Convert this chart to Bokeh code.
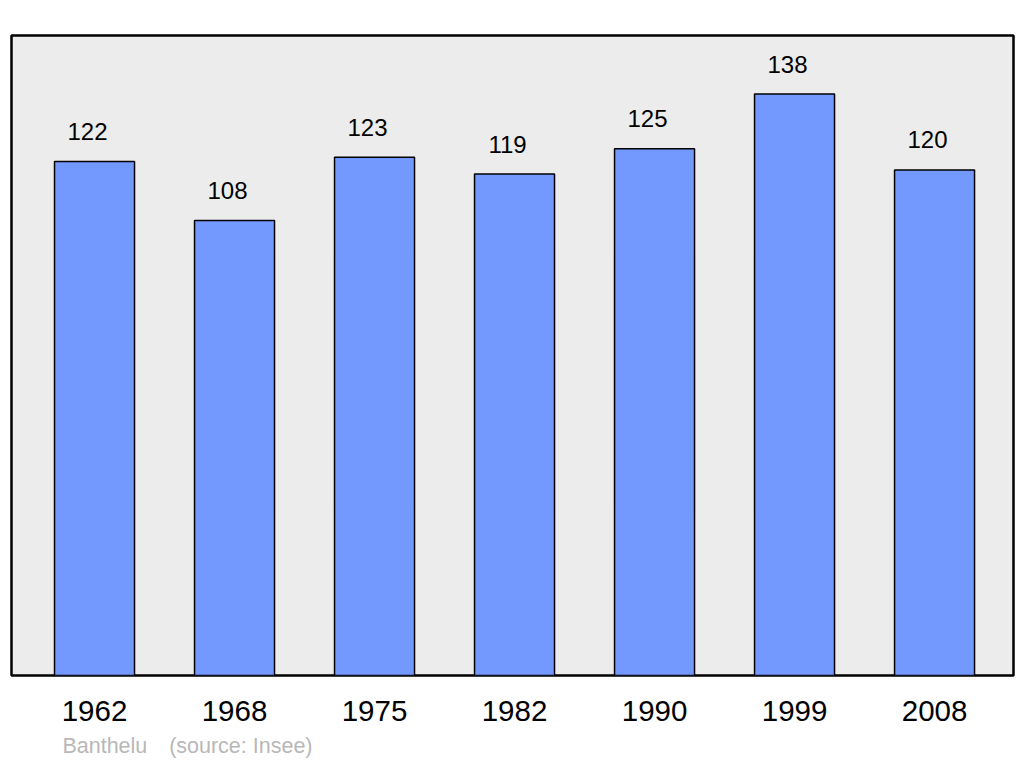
from bokeh.plotting import figure
from bokeh.models import Range1d, FixedTicker, LinearAxis, ColumnDataSource
from bokeh.core.properties import value
from bokeh.embed import file_html
from bokeh.resources import INLINE

years = ["1962", "1968", "1975", "1982", "1990", "1999", "2008"]
population = [122, 108, 123, 119, 125, 138, 120]
footer_texts = ["Banthelu", "(source: Insee)"]
footer_pos = [0.074, 1.045]

idx = list(range(len(years)))
src = ColumnDataSource(dict(x=idx, top=population, lbl=[str(v) for v in population]))

FONT = "Liberation Sans"

p = figure(width=1016, height=760, output_backend="svg", toolbar_location=None,
           x_range=Range1d(-0.593, 6.564), y_range=Range1d(0, 151.9),
           min_border_left=11, min_border_right=3, min_border_top=35, min_border_bottom=10)
p.background_fill_color = "#ececec"
p.border_fill_color = "white"
p.outline_line_color = "black"
p.outline_line_width = 2.5
p.xgrid.visible = False
p.ygrid.visible = False
p.yaxis.visible = False

p.vbar(x="x", top="top", width=80 / 140, bottom=0, source=src,
       fill_color="#7399ff", line_color="black", line_width=1.5)
p.text(x="x", y="top", text="lbl", source=src, x_offset=-7, y_offset=-30,
       text_align="center", text_baseline="alphabetic",
       text_font=value(FONT), text_font_size="24px", text_color="black")

ax = p.xaxis[0]
ax.ticker = FixedTicker(ticks=idx)
ax.major_label_overrides = {i: y for i, y in zip(idx, years)}
ax.axis_line_color = None
ax.major_tick_line_color = None
ax.minor_tick_line_color = None
ax.major_label_text_font = FONT
ax.major_label_text_font_size = "29.5px"
ax.major_label_text_color = "black"
ax.major_label_standoff = 19

ax2 = LinearAxis(ticker=FixedTicker(ticks=footer_pos),
                 major_label_overrides={pos: t for pos, t in zip(footer_pos, footer_texts)})
ax2.axis_line_color = None
ax2.major_tick_line_color = None
ax2.minor_tick_line_color = None
ax2.major_label_text_font = FONT
ax2.major_label_text_font_size = "21.5px"
ax2.major_label_text_color = "#b8b8b8"
ax2.major_label_standoff = 4
p.add_layout(ax2, "below")

open("out.html", "w").write(file_html(p, INLINE))
